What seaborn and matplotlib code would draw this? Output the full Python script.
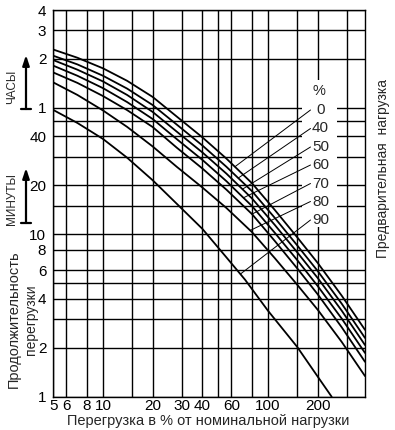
import numpy as np
import pandas as pd
import matplotlib
matplotlib.use("Agg")
import matplotlib.pyplot as plt
import seaborn as sns
from matplotlib.patches import Rectangle
from matplotlib.lines import Line2D

# ---------------- data (overload %, permissible duration in minutes) -------------
preload = ["0", "40", "50", "60", "70", "80", "90"]

p_0 = [5, 7, 10, 14, 20, 28, 40, 56, 80, 110, 150, 200, 280, 387]
t_0 = [137, 122, 105, 88, 70, 53, 39.5, 29.2, 20.6, 14.1, 9.6, 6.66, 4.18, 2.58]
p_40 = [5, 7, 10, 14, 20, 28, 40, 56, 80, 110, 150, 200, 280, 387]
t_40 = [125.5, 111, 94.5, 78.8, 62.4, 47.3, 35.2, 26.0, 18.4, 12.6, 8.56, 5.94, 3.73, 2.30]
p_50 = [5, 7, 10, 14, 20, 28, 40, 56, 80, 110, 150, 200, 280, 387]
t_50 = [118, 103, 87.2, 72, 56.6, 42.8, 31.9, 23.6, 16.6, 11.4, 7.76, 5.38, 3.38, 2.08]
p_60 = [5, 7, 10, 14, 20, 28, 40, 56, 80, 110, 150, 200, 280, 387]
t_60 = [109, 94.5, 79.3, 65.1, 51.2, 38.5, 28.7, 21.2, 14.9, 10.2, 6.95, 4.8, 3.02, 1.86]
p_70 = [5, 7, 10, 14, 20, 28, 40, 56, 80, 110, 150, 200, 280, 387]
t_70 = [99, 85.4, 70.9, 58.1, 45.7, 34.1, 25.4, 18.8, 13.3, 9.08, 6.18, 4.27, 2.67, 1.64]
p_80 = [5, 7, 10, 14, 20, 28, 40, 56, 80, 110, 150, 200, 280, 387]
t_80 = [86, 72, 57.8, 45.8, 34.7, 26, 19.4, 14.5, 10.3, 7.12, 4.9, 3.43, 2.17, 1.34]
p_90 = [5, 7, 10, 14, 20, 28, 40, 56, 72.6, 100, 150, 200, 243]
t_90 = [58.2, 48.4, 38.6, 29.6, 21.5, 15.4, 10.8, 7.2, 5.25, 3.38, 2.03, 1.33, 1.0]

curves_p = [p_0, p_40, p_50, p_60, p_70, p_80, p_90]
curves_t = [t_0, t_40, t_50, t_60, t_70, t_80, t_90]

# where each label's leader line touches its curve (overload %)
leader_p = [63, 66, 70, 71, 80, 78, 68]

x_grid = [5, 6, 8, 10, 15, 20, 30, 40, 50, 60, 80, 100, 150, 200, 300]
x_ticks = [5, 6, 8, 10, 20, 30, 40, 60, 100, 200]
x_ticklabels = ["5", "6", "8", "10", "20", "30", "40", "60", "100", "200"]
y_grid = [1, 2, 3, 4, 5, 6, 8, 10, 15, 20, 30, 40, 50, 60, 120, 180, 240]
y_ticks = [1, 2, 4, 6, 8, 10, 20, 40, 60, 120, 180, 240]
y_ticklabels = ["1", "2", "4", "6", "8", "10", "20", "40", "1", "2", "3", "4"]

frames = []
for lab, pp, tt in zip(preload, curves_p, curves_t):
    frames.append(pd.DataFrame({"p": pp, "t": tt, "preload": lab}))
df = pd.concat(frames, ignore_index=True)

# ---------------- figure ----------------
sns.set_style("white")
FONT = ["Liberation Sans", "DejaVu Sans"]
plt.rcParams["font.family"] = FONT

W, H = 395, 430
fig = plt.figure(figsize=(W / 100, H / 100), dpi=100)
L, R, T, B = 53.3, 365.0, 10.0, 396.7
ax = fig.add_axes([L / W, 1 - B / H, (R - L) / W, (B - T) / H])
ax.set_xscale("log")
ax.set_yscale("log")
ax.set_xlim(5, 387)
ax.set_ylim(1, 240)


def axx(px):
    return (px - L) / (R - L)


def axy(py):
    return (B - py) / (B - T)


for gx in x_grid:
    ax.axvline(gx, color="black", lw=1.0, zorder=1)
for gy in y_grid:
    ax.axhline(gy, color="black", lw=1.0, zorder=1)

# white area behind the preload labels
ax.add_patch(Rectangle((axx(302), axy(227)), axx(337) - axx(302), axy(80) - axy(227),
                       transform=ax.transAxes, facecolor="white", edgecolor="none", zorder=2))

sns.lineplot(data=df, x="p", y="t", hue="preload", hue_order=preload,
             palette=["black"] * 7, estimator=None, sort=True, legend=False,
             lw=1.3, ax=ax, zorder=3)

for s in ax.spines.values():
    s.set_color("black")
    s.set_linewidth(1.0)
    s.set_zorder(4)

ax.set_xticks(x_ticks)
ax.set_xticklabels(x_ticklabels)
ax.set_yticks(y_ticks)
ax.set_yticklabels(y_ticklabels)
ax.minorticks_off()
ax.tick_params(axis="both", length=0, labelsize=11, colors="black")
ax.tick_params(axis="x", pad=2)
ax.tick_params(axis="y", pad=5)
ax.set_xlabel("")
ax.set_ylabel("")

# preload labels with leader lines
ax.text(axx(319), axy(91), "%", transform=ax.transAxes, ha="center", va="center",
        fontsize=10.5, zorder=5)
label_y = [110, 128.5, 147, 165, 183.5, 201.5, 220]
for lab, ly, lp, pp, tt in zip(preload, label_y, leader_p, curves_p, curves_t):
    lt = 10 ** np.interp(np.log10(lp), np.log10(pp), np.log10(tt))
    ax.annotate("", xy=(lp, lt), xycoords="data",
                xytext=(axx(310.5), axy(ly)), textcoords="axes fraction",
                arrowprops=dict(arrowstyle="-", lw=0.7, color="black",
                                shrinkA=0, shrinkB=0), zorder=4)
    ax.text(axx(320.5), axy(ly), lab, transform=ax.transAxes, ha="center",
            va="center", fontsize=11, zorder=5)


# outer texts
def fx(px):
    return px / W


def fy(py):
    return 1 - py / H


fig.text(fx(208), fy(421), "Перегрузка в % от номинальной нагрузки", ha="center",
         va="center", fontsize=10.5)
fig.text(fx(383), fy(168), "Предварительная  нагрузка", rotation=90, ha="center",
         va="center", fontsize=10)
fig.text(fx(14), fy(319), "Продолжительность", rotation=90, ha="center",
         va="center", fontsize=10.5)
fig.text(fx(31), fy(320), "перегрузки", rotation=90, ha="center",
         va="center", fontsize=10)
fig.text(fx(12), fy(87), "ЧАСЫ", rotation=90, ha="center", va="center", fontsize=8.5)
fig.text(fx(12), fy(199), "МИНУТЫ", rotation=90, ha="center", va="center", fontsize=8.5)

for top, bot in [(55, 109), (168, 223)]:
    ax.annotate("", xy=(26, H - top), xycoords="figure pixels",
                xytext=(26, H - bot), textcoords="figure pixels",
                arrowprops=dict(arrowstyle="-|>,head_length=0.6,head_width=0.2",
                                lw=1.6, color="black", shrinkA=0, shrinkB=0))
    fig.add_artist(Line2D([fx(21), fx(31)], [fy(bot), fy(bot)], color="black", lw=1.6))

fig.savefig("out.png", dpi=100, facecolor="white")
